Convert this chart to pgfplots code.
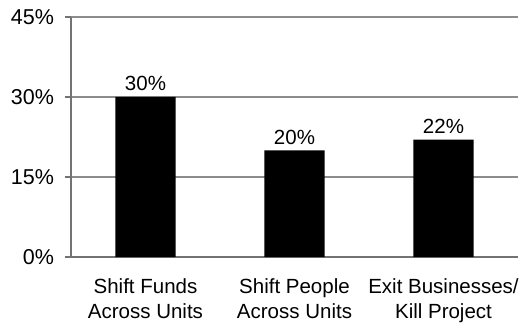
\documentclass[border=0pt]{standalone}
\usepackage{fontspec}
\setmainfont{Liberation Sans}
\usepackage{pgfplots}
\pgfplotsset{compat=1.18}
\begin{document}
\fontsize{20.5}{24.5}\selectfont
\begin{tikzpicture}[x=1pt,y=1pt]
\begin{axis}[
  at={(0,0)}, anchor=south west,
  scale only axis, width=447pt, height=240pt,
  xmin=-0.5, xmax=2.5, ymin=0, ymax=45,
  axis x line*=bottom, axis y line*=left,
  axis line style={draw=black!55, line width=1.2pt},
  xtick={0,1,2},
  xticklabels={{Shift Funds\\Across Units},{Shift People\\Across Units},{Exit Businesses/\\Kill Project}},
  xticklabel style={align=center, font=\fontsize{20.5}{24.5}\selectfont, yshift=-9pt},
  x tick style={draw=none},
  ytick={0,15,30,45},
  yticklabel={\pgfmathprintnumber{\tick}\%},
  yticklabel style={font=\fontsize{21.5}{25}\selectfont, xshift=-4pt},
  /pgf/number format/assume math mode=true,
  tick align=outside, major tick length=6pt,
  y tick style={draw=black!55, line width=1.2pt},
  ymajorgrids, grid style={draw=black!45, line width=1.2pt},
  every axis plot/.append style={bar width=0.405, fill=black, draw=none},
  nodes near coords={\pgfmathprintnumber{\pgfplotspointmeta}\%},
  nodes near coords style={font=\fontsize{20.5}{24.5}\selectfont, black, yshift=-1pt},
]
\addplot[ybar, fill=black, draw=none] coordinates {(0,30) (1,20) (2,22)};
\end{axis}
\path[use as bounding box] (-71pt,-66pt) rectangle (455pt,257pt);
\end{tikzpicture}
\end{document}
